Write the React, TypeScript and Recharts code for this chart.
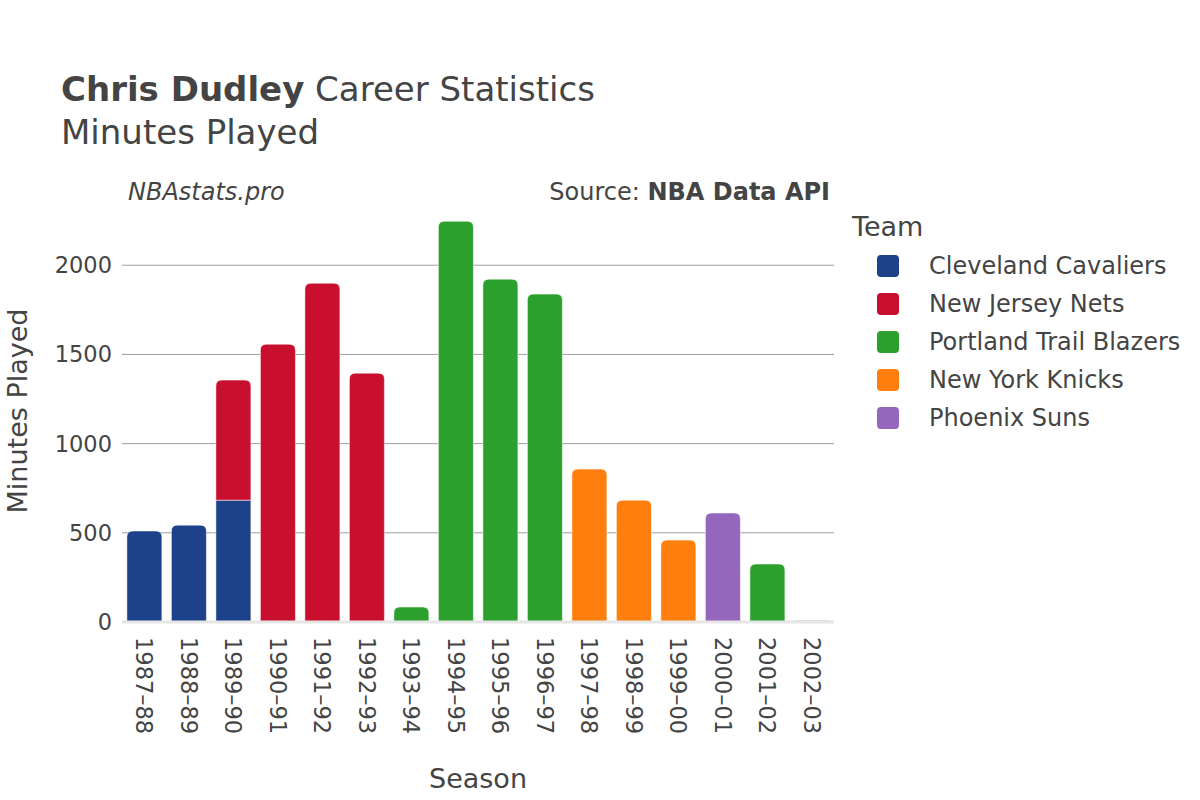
import React from "react";
import { Bar, BarChart, CartesianGrid, ReferenceLine, XAxis, YAxis } from "recharts";

const seasons = [
  "1987–88", "1988–89", "1989–90", "1990–91", "1991–92", "1992–93", "1993–94", "1994–95",
  "1995–96", "1996–97", "1997–98", "1998–99", "1999–00", "2000–01", "2001–02", "2002–03",
];

const teams = ["Cleveland Cavaliers", "New Jersey Nets", "Portland Trail Blazers", "New York Knicks", "Phoenix Suns"];
const teamColors = ["#1d428a", "#c8102e", "#2ca02c", "#ff7f0e", "#9467bd"];

const cavs = [510, 543, 683, 0, 0, 0, 0, 0, 0, 0, 0, 0, 0, 0, 0, 0];
const nets = [0, 0, 673, 1557, 1899, 1395, 0, 0, 0, 0, 0, 0, 0, 0, 0, 0];
const blazers = [0, 0, 0, 0, 0, 0, 84, 2246, 1922, 1838, 0, 0, 0, 0, 325, 8];
const knicks = [0, 0, 0, 0, 0, 0, 0, 0, 0, 0, 857, 683, 459, 0, 0, 0];
const suns = [0, 0, 0, 0, 0, 0, 0, 0, 0, 0, 0, 0, 0, 611, 0, 0];

const yTicks = [0, 500, 1000, 1500, 2000];

const series = [cavs, nets, blazers, knicks, suns];
const data = seasons.map((season, i) => {
  const row: Record<string, any> = { season };
  teams.forEach((t, k) => (row[t] = series[k][i]));
  // topmost team in the stack gets the rounded corners
  let top = -1;
  series.forEach((s, k) => {
    if (s[i] > 0) top = k;
  });
  row.top = top;
  return row;
});

const FONT = "'DejaVu Sans', sans-serif";
const TEXT = "#444";

const makeShape = (k: number) => (props: any) => {
  const { x, y, width, height, payload, fill } = props;
  if (!height || height <= 0) return <g />;
  const r = payload.top === k ? Math.min(6, height, width / 2) : 0;
  const d = `M${x},${y + height} L${x},${y + r} Q${x},${y} ${x + r},${y} L${x + width - r},${y} Q${x + width},${y} ${x + width},${y + r} L${x + width},${y + height} Z`;
  return <path d={d} fill={fill} stroke="#ffffff" strokeOpacity={0.5} strokeWidth={1} />;
};

const SeasonTick = (props: any) => {
  const { x, y, payload } = props;
  return (
    <text
      transform={`translate(${x},${y + 7}) rotate(90)`}
      textAnchor="start"
      dominantBaseline="central"
      fill={TEXT}
      fontSize={22.5}
      fontFamily={FONT}
    >
      {payload.value}
    </text>
  );
};

export default function App() {
  return (
    <div style={{ position: "absolute", left: 0, top: 0, width: 1200, height: 800, background: "#fff" }}>
      <BarChart
        width={1200}
        height={800}
        data={data}
        margin={{ top: 201, right: 366, bottom: 0, left: 0 }}
        barCategoryGap="11%"
      >
        <CartesianGrid horizontal vertical={false} stroke="#9e9e9e" horizontalValues={[500, 1000, 1500, 2000]} />
        <ReferenceLine y={0} stroke="#e6e6e6" strokeWidth={3} />
        <XAxis
          dataKey="season"
          height={178}
          tick={<SeasonTick />}
          tickLine={false}
          axisLine={false}
          interval={0}
        />
        <YAxis
          width={122}
          domain={[0, 2360]}
          ticks={yTicks}
          tick={{ fill: TEXT, fontSize: 22.5, fontFamily: FONT }}
          tickLine={false}
          axisLine={false}
          tickMargin={4}
        />
        {teams.map((t, k) => (
          <Bar
            key={t}
            dataKey={t}
            stackId="a"
            fill={teamColors[k]}
            shape={makeShape(k)}
            isAnimationActive={false}
          />
        ))}
      </BarChart>
      <svg
        width={1200}
        height={800}
        style={{ position: "absolute", left: 0, top: 0, pointerEvents: "none" }}
        fontFamily={FONT}
        fill={TEXT}
      >
        <text x={61} y={101} fontSize={34}>
          <tspan fontWeight="bold">Chris Dudley</tspan> Career Statistics
        </text>
        <text x={61} y={144} fontSize={34}>
          Minutes Played
        </text>
        <text x={128} y={200} fontSize={24} fontStyle="italic">
          NBAstats.pro
        </text>
        <text x={830} y={200} fontSize={24} textAnchor="end">
          Source: <tspan fontWeight="bold">NBA Data API</tspan>
        </text>
        <text x={478} y={788} fontSize={27} textAnchor="middle">
          Season
        </text>
        <text transform="translate(27,411) rotate(-90)" fontSize={27} textAnchor="middle">
          Minutes Played
        </text>
        <text x={852} y={236} fontSize={27}>
          Team
        </text>
        {teams.map((t, k) => (
          <g key={t}>
            <rect x={877} y={255 + k * 38} width={22} height={22} rx={4} fill={teamColors[k]} />
            <text x={929} y={266 + k * 38} fontSize={24} dominantBaseline="central">
              {t}
            </text>
          </g>
        ))}
      </svg>
    </div>
  );
}
